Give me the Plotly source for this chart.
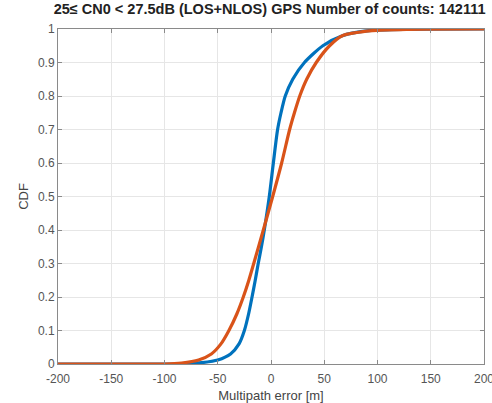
import plotly.graph_objects as go

# Blue series (CDF of multipath error)
blue_x = [-200, -90, -77, -65, -50, -38, -30, -25, -21, -17.8, -14.8, -12, -9, -6.3, -1.6, 2.2, 6.2, 9.4, 13.4, 20.4, 31.4, 48.7, 67, 92, 130, 200]
blue_y = [0, 0, 0.001, 0.004, 0.012, 0.03, 0.06, 0.1, 0.15, 0.2, 0.25, 0.3, 0.35, 0.4, 0.5, 0.6, 0.7, 0.75, 0.8, 0.85, 0.9, 0.95, 0.98, 0.995, 0.999, 1.0]

# Orange series
orange_x = [-200, -100, -84, -68, -56, -47, -39.5, -32, -26, -20.8, -16.2, -7.2, 1.6, 10, 17.5, 22, 27, 33.5, 42.5, 55, 67, 95, 130, 200]
orange_y = [0, 0, 0.003, 0.012, 0.03, 0.06, 0.1, 0.15, 0.2, 0.25, 0.3, 0.4, 0.5, 0.6, 0.7, 0.75, 0.8, 0.85, 0.9, 0.95, 0.98, 0.995, 0.999, 1.0]

x_ticks = [-200, -150, -100, -50, 0, 50, 100, 150, 200]
y_ticks = [0, 0.1, 0.2, 0.3, 0.4, 0.5, 0.6, 0.7, 0.8, 0.9, 1]
y_tick_labels = ["0", "0.1", "0.2", "0.3", "0.4", "0.5", "0.6", "0.7", "0.8", "0.9", "1"]

title_text = "25\u2264 CN0 < 27.5dB (LOS+NLOS) GPS Number of counts: 142111"

fig = go.Figure()
fig.add_trace(go.Scatter(x=blue_x, y=blue_y, mode="lines", line=dict(color="#0072BD", width=3.2, shape="spline", smoothing=0.7), showlegend=False))
fig.add_trace(go.Scatter(x=orange_x, y=orange_y, mode="lines", line=dict(color="#D95319", width=3.2, shape="spline", smoothing=0.7), showlegend=False))

axis_common = dict(
    showgrid=True, gridcolor="#E6E6E6", gridwidth=1,
    showline=True, linecolor="#8A8A8A", linewidth=1, mirror="ticks",
    ticks="inside", ticklen=4, tickcolor="#8A8A8A",
    tickfont=dict(family="Liberation Sans, Arial", size=12, color="#555555"),
    zeroline=False, automargin=False,
)

fig.update_layout(
    width=492, height=403,
    margin=dict(l=58, r=8, t=29, b=39),
    paper_bgcolor="white", plot_bgcolor="white",
    title=dict(text="<b>" + title_text + "</b>", x=0.548, xanchor="center", y=0.99, yanchor="top",
               font=dict(family="Liberation Sans, Arial", size=14.5, color="#222222")),
    xaxis=dict(range=[-200, 200], tickvals=x_ticks, ticktext=[str(v) for v in x_ticks],
               ticklabeloverflow="allow", ticklabelstandoff=4,
               title=dict(text="Multipath error [m]", standoff=6,
                          font=dict(family="Liberation Sans, Arial", size=13, color="#444444")),
               **axis_common),
    yaxis=dict(range=[0, 1], tickvals=y_ticks, ticktext=y_tick_labels,
               title=dict(text="CDF", standoff=6,
                          font=dict(family="Liberation Sans, Arial", size=13, color="#444444")),
               **axis_common),
)

fig.write_html("out.html", config={"displayModeBar": False},
               post_script="document.body.style.margin='0';document.body.style.overflow='hidden';")
